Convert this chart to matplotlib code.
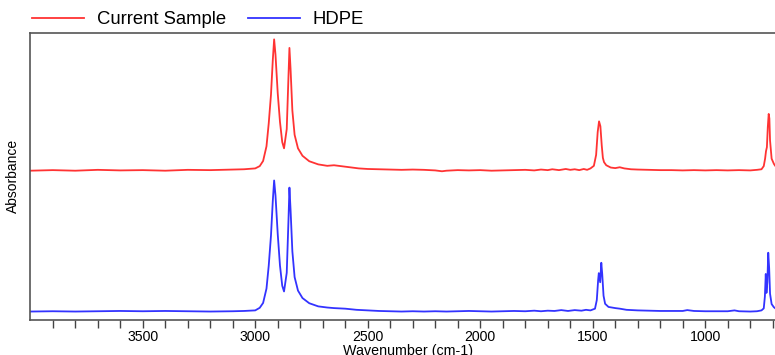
import matplotlib.pyplot as plt

plt.rcParams['font.family'] = ['Liberation Sans', 'DejaVu Sans']

# wavenumbers (cm-1) and absorbance, relative to each baseline
sample_wn = [4000, 3900, 3800, 3700, 3600, 3500, 3400, 3300, 3200, 3100, 3050,
             3000, 2980, 2965, 2950, 2940, 2930, 2922, 2916, 2910, 2900, 2890,
             2880, 2872, 2860, 2852, 2848, 2843, 2835, 2825, 2810, 2790, 2760,
             2720, 2680, 2650, 2620, 2580, 2540, 2500, 2450, 2400, 2350, 2300,
             2250, 2200, 2170, 2150, 2100, 2050, 2000, 1950, 1900, 1850, 1800,
             1760, 1730, 1700, 1680, 1650, 1620, 1600, 1580, 1560, 1540, 1525,
             1510, 1495, 1485, 1478, 1472, 1466, 1460, 1455, 1450, 1440, 1420,
             1400, 1380, 1360, 1330, 1300, 1250, 1200, 1150, 1100, 1050, 1000,
             950, 900, 850, 800, 770, 750, 740, 734, 730, 726, 722, 718, 715,
             712, 705, 695, 690]
sample_abs = [0.000, 0.002, 0.000, 0.003, 0.001, 0.002, 0.000, 0.003, 0.002, 0.004, 0.005,
              0.008, 0.016, 0.034, 0.085, 0.165, 0.265, 0.385, 0.458, 0.405, 0.270, 0.170,
              0.100, 0.078, 0.145, 0.335, 0.428, 0.355, 0.210, 0.125, 0.078, 0.052, 0.033,
              0.022, 0.017, 0.019, 0.016, 0.012, 0.008, 0.006, 0.005, 0.004, 0.003, 0.004,
              0.003, 0.001, -0.002, 0.000, 0.002, 0.001, 0.002, 0.000, 0.001, 0.002, 0.003,
              0.001, 0.004, 0.002, 0.005, 0.002, 0.006, 0.003, 0.005, 0.002, 0.006, 0.003,
              0.008, 0.017, 0.055, 0.135, 0.172, 0.155, 0.088, 0.045, 0.030, 0.019, 0.011,
              0.009, 0.012, 0.008, 0.005, 0.004, 0.003, 0.002, 0.002, 0.001, 0.002, 0.001,
              0.002, 0.001, 0.002, 0.001, 0.003, 0.005, 0.016, 0.042, 0.068, 0.082, 0.152, 0.198, 0.182,
              0.105, 0.042, 0.024, 0.018]

hdpe_wn = [4000, 3900, 3800, 3700, 3600, 3500, 3400, 3300, 3200, 3100, 3050,
           3000, 2980, 2965, 2950, 2940, 2930, 2922, 2916, 2910, 2900, 2890,
           2880, 2872, 2860, 2852, 2848, 2843, 2835, 2825, 2810, 2790, 2760,
           2720, 2680, 2650, 2600, 2550, 2500, 2450, 2400, 2350, 2300, 2250,
           2200, 2150, 2100, 2050, 2000, 1950, 1900, 1850, 1800, 1760, 1730,
           1700, 1670, 1640, 1610, 1580, 1550, 1530, 1510, 1490, 1482, 1476,
           1473, 1467, 1462, 1458, 1452, 1445, 1430, 1400, 1380, 1350, 1300,
           1250, 1200, 1150, 1100, 1080, 1050, 1000, 950, 900, 870, 850,
           800, 770, 750, 740, 735, 731, 728, 724, 720, 716, 712, 705, 695, 690]
hdpe_abs = [0.000, 0.001, 0.000, 0.001, 0.002, 0.001, 0.002, 0.001, 0.000, 0.001, 0.002,
            0.004, 0.013, 0.030, 0.080, 0.160, 0.265, 0.385, 0.457, 0.405, 0.270, 0.160,
            0.090, 0.070, 0.135, 0.325, 0.432, 0.355, 0.210, 0.120, 0.073, 0.047, 0.029,
            0.018, 0.014, 0.012, 0.010, 0.006, 0.004, 0.002, 0.001, 0.000, 0.001, 0.000,
            0.001, 0.000, 0.001, 0.002, 0.001, 0.000, 0.001, 0.002, 0.001, 0.003, 0.001,
            0.003, 0.002, 0.005, 0.002, 0.005, 0.003, 0.006, 0.004, 0.010, 0.040, 0.110,
            0.134, 0.102, 0.170, 0.132, 0.055, 0.027, 0.016, 0.012, 0.010, 0.006, 0.004,
            0.003, 0.002, 0.002, 0.002, 0.005, 0.002, 0.001, 0.001, 0.001, 0.004, 0.001,
            0.000, 0.001, 0.004, 0.011, 0.052, 0.131, 0.065, 0.102, 0.205, 0.152, 0.062, 0.026, 0.015, 0.012]

series_names = ['Current Sample', 'HDPE']
series_colors = ['#ff3333', '#3333ff']
stack_offsets = [0.52, 0.029]

major_ticks = [3500, 3000, 2500, 2000, 1500, 1000]
minor_ticks = [3900, 3800, 3700, 3600, 3400, 3300, 3200, 3100, 2900, 2800, 2700,
               2600, 2400, 2300, 2200, 2100, 1900, 1800, 1700, 1600, 1400, 1300,
               1200, 1100, 900, 800, 700]

fig = plt.figure(figsize=(7.75, 3.55), dpi=100)
ax = fig.add_axes([0.039, 0.099, 0.961, 0.808])

for wn, ab, off, name, col in zip([sample_wn, hdpe_wn], [sample_abs, hdpe_abs],
                                  stack_offsets, series_names, series_colors):
    ax.plot(wn, [a + off for a in ab], color=col, lw=1.3, label=name)

ax.set_xlim(4000, 690)
ax.set_ylim(0, 1)
ax.set_xticks(major_ticks)
ax.set_xticks(minor_ticks, minor=True)
ax.tick_params(axis='x', which='both', direction='out', length=6, width=1,
               color='#444444', labelsize=10.2, pad=1.5)
ax.tick_params(axis='y', left=False, labelleft=False)
ax.spines['right'].set_visible(False)
for s in ['top', 'left', 'bottom']:
    ax.spines[s].set_color('#555555')
    ax.spines[s].set_linewidth(1.2)

ax.set_xlabel('Wavenumber (cm-1)', fontsize=10.3)
ax.xaxis.set_label_coords(0.507, -0.083)
ax.set_ylabel('Absorbance', fontsize=10)
ax.yaxis.set_label_coords(-0.014, 0.5)

fig.legend(loc='upper left', bbox_to_anchor=(0.020, 1.015), ncol=2, frameon=False,
           fontsize=13.3, handlelength=2.8, handletextpad=0.7, columnspacing=1.2)

fig.savefig('out.png', dpi=100)
